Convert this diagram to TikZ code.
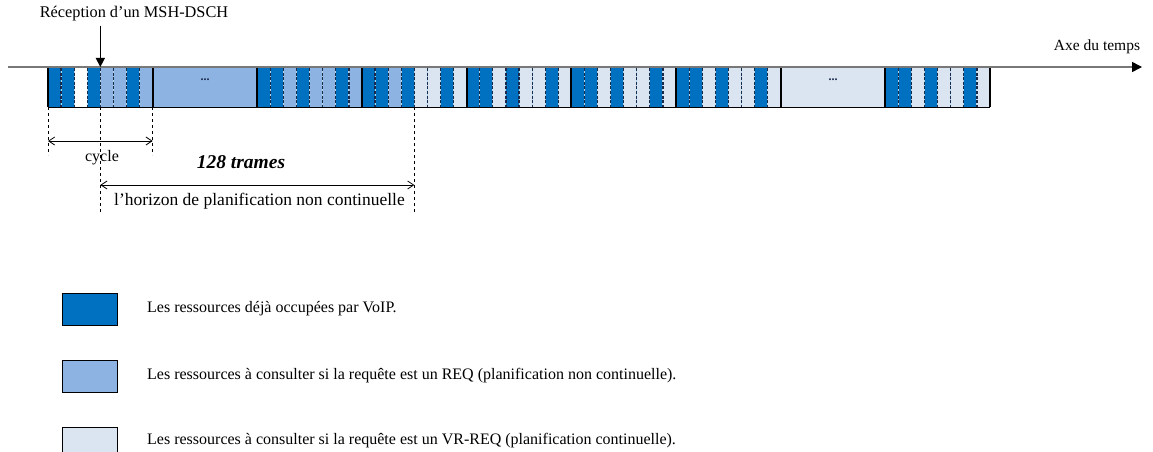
\documentclass[tikz,border=0pt]{standalone}
\usepackage{fontspec}
\setmainfont{Liberation Serif}
\usetikzlibrary{arrows.meta}
\definecolor{voip}{RGB}{0,112,192}
\definecolor{req}{RGB}{141,179,226}
\definecolor{vrreq}{RGB}{219,229,241}
\definecolor{axisgray}{RGB}{120,120,120}
\definecolor{divnavy}{RGB}{25,40,75}
\definecolor{divlight}{RGB}{175,220,235}
\tikzset{
  lbl/.style={inner sep=0pt, font=\fontsize{16}{18}\selectfont},
  legtxt/.style={anchor=west, inner sep=0pt, font=\fontsize{16}{18}\selectfont},
  legbox/.style={draw=black, line width=0.8pt, minimum width=55pt, minimum height=32pt, inner sep=0pt},
  dimline/.style={draw=black, line width=0.8pt, dash pattern=on 3pt off 3pt},
  dimarrow/.style={draw=black, line width=0.8pt, {Straight Barb[length=6pt,width=8pt]}-{Straight Barb[length=6pt,width=8pt]}},
  blockline/.style={draw=black, line width=2pt},
}
\begin{document}
\begin{tikzpicture}[x=1pt,y=-1pt]
\useasboundingbox (0,0) rectangle (1153,452);
\def\bw{104.67}
\def\sw{13.083}
% slotted blocks
\foreach \b/\pat in {0/{voip,voip,white,voip,req,req,voip,req},
                     2/{voip,voip,req,voip,req,req,voip,req},
                     3/{voip,voip,req,voip,vrreq,vrreq,voip,vrreq},
                     4/{voip,voip,vrreq,voip,vrreq,vrreq,voip,vrreq},
                     5/{voip,voip,vrreq,voip,vrreq,vrreq,voip,vrreq},
                     6/{voip,voip,vrreq,voip,vrreq,vrreq,voip,vrreq},
                     8/{voip,voip,vrreq,voip,vrreq,vrreq,voip,vrreq}}{
  \foreach \c [count=\i from 0] in \pat {
    \fill[\c] ({48+\b*\bw+\i*\sw},68) rectangle ++(\sw,39);
  }
  \foreach \i in {1,...,7}{
    \draw[divlight, line width=1pt] ({48+\b*\bw+\i*\sw},68) -- ++(0,39);
    \draw[divnavy, line width=1.2pt, dash pattern=on 3pt off 1.6pt] ({48+\b*\bw+\i*\sw},68) -- ++(0,39);
  }
}
% full blocks
\fill[req] ({48+1*\bw},68) rectangle ++(\bw,39);
\fill[vrreq] ({48+7*\bw},68) rectangle ++(\bw,39);
\node[font=\fontsize{12}{12}\selectfont\bfseries, text=divnavy] (dots1) at ({48+1.5*\bw},80) {...};
\node[font=\fontsize{12}{12}\selectfont\bfseries, text=divnavy] (dots2) at ({48+7.5*\bw},80) {...};
% block separators
\foreach \k in {0,...,9}{
  \draw[blockline] ({48+\k*\bw},68) -- ++(0,39);
}
\draw[black, line width=0.9pt] (48,107) -- ({48+9*\bw},107);
% time axis
\coordinate (axstart) at (8,67);
\coordinate (axend) at (1142,67);
\draw[axisgray, line width=1.5pt, -{Triangle[length=10pt,width=10pt,color=black]}] (axstart) -- (axend);
\node[lbl, font=\fontsize{15.5}{17}\selectfont] (axe) at (1097,47) {Axe du temps};
% reception
\node[lbl, font=\fontsize{16.3}{18}\selectfont] (recep) at (134,14) {Réception d’un MSH-DSCH};
\coordinate (rcpt) at ({48+4*\sw},67);
\draw[black, line width=1.3pt, -{Triangle[length=9pt,width=9pt]}] (recep.south -| rcpt) ++(0,4) -- (rcpt);
% dimension lines
\coordinate (d0t) at (48,107);
\coordinate (d0b) at (48,155);
\coordinate (d1t) at ({48+\bw},107);
\coordinate (d1b) at ({48+\bw},155);
\coordinate (r0t) at ({48+4*\sw},107);
\coordinate (r0b) at ({48+4*\sw},212);
\coordinate (r1t) at ({48+3*\bw+4*\sw},107);
\coordinate (r1b) at ({48+3*\bw+4*\sw},212);
\draw[dimline] (d0t) -- (d0b);
\draw[dimline] (d1t) -- (d1b);
\draw[dimline] (r0t) -- (r0b);
\draw[dimline] (r1t) -- (r1b);
\draw[dimarrow] (d0t |- 0,141) -- (d1t |- 0,141);
\draw[dimarrow] (r0t |- 0,185) -- (r1t |- 0,185);
\node[lbl] (cycle) at (102,158) {cycle};
\node[lbl, font=\fontsize{19.5}{21}\selectfont\bfseries\itshape] (trames) at (241,162) {128 trames};
\node[lbl, font=\fontsize{17.5}{19}\selectfont] (horizon) at (259.5,201) {l’horizon de planification non continuelle};
% legend
\node[legbox, fill=voip] (l1) at (89.5,309) {};
\node[legbox, fill=req] (l2) at (89.5,376) {};
\node[legbox, fill=vrreq] (l3) at (89.5,443) {};
\node[legtxt] (t1) at (147,309) {Les ressources déjà occupées par VoIP.};
\node[legtxt] (t2) at (147,376) {Les ressources à consulter si la requête est un REQ (planification non continuelle).};
\node[legtxt] (t3) at (147,441) {Les ressources à consulter si la requête est un VR-REQ (planification continuelle).};
\end{tikzpicture}
\end{document}
